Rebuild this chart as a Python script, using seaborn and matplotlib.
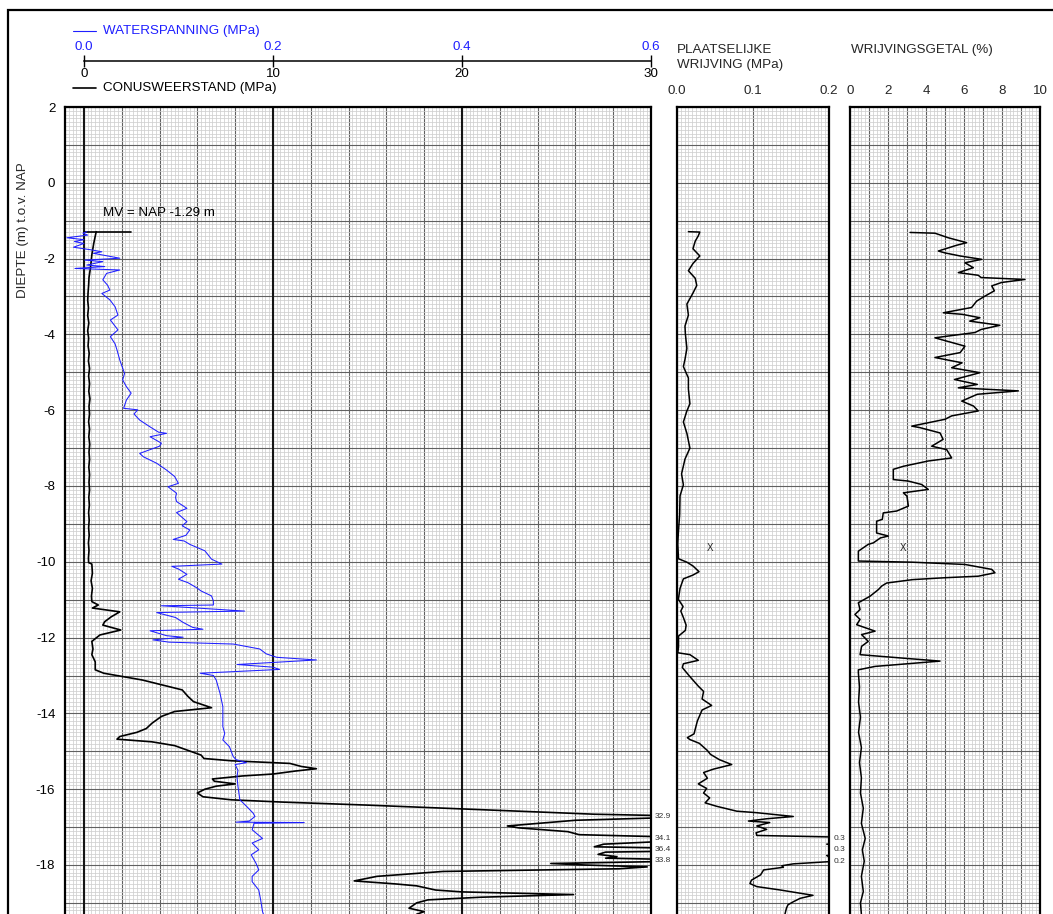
import numpy as np
import pandas as pd
import matplotlib
matplotlib.use("Agg")
import matplotlib.pyplot as plt
from matplotlib.lines import Line2D
from matplotlib.patches import Rectangle
from matplotlib.ticker import MultipleLocator, FuncFormatter
import seaborn as sns

# ---------------- data ----------------
MV_DEPTH = -1.29
MV_TEXT = "MV = NAP -1.29 m"

qc_depth = [-1.29, -1.45, -1.6, -1.75, -1.9, -2.1, -2.3, -2.5, -2.7, -2.9, -3.1, -3.3, -3.5, -3.7, -3.9,
            -4.1, -4.3, -4.5, -4.7, -4.9, -5.1, -5.3, -5.5, -5.7, -5.9, -6.1, -6.3, -6.5, -6.7, -6.9,
            -7.1, -7.3, -7.5, -7.7, -7.9, -8.1, -8.3, -8.5, -8.7, -8.9, -9.1, -9.3, -9.5, -9.7, -9.9,
            -10.02, -10.06, -10.3, -10.5, -10.7, -10.9, -11.05, -11.14, -11.22, -11.32, -11.45, -11.58,
            -11.67, -11.8, -11.93, -12.1, -12.3, -12.45, -12.64, -12.85, -12.94, -13.12, -13.38, -13.55,
            -13.69, -13.85, -13.95, -14.08, -14.26, -14.4, -14.5, -14.61, -14.68, -14.75, -14.85, -15.01,
            -15.1, -15.19, -15.25, -15.32, -15.4, -15.46, -15.52, -15.6, -15.65, -15.73, -15.79, -15.86,
            -15.92, -16.0, -16.1, -16.2, -16.28, -16.34, -16.42, -16.5, -16.58, -16.66, -16.72, -16.82,
            -16.97, -17.02, -17.12, -17.2, -17.3, -17.45, -17.52, -17.6, -17.66, -17.72, -17.78, -17.82,
            -17.88, -17.96, -18.0, -18.05, -18.1, -18.17, -18.3, -18.42, -18.5, -18.55, -18.66, -18.71,
            -18.78, -18.85, -18.92, -19.0, -19.14, -19.23, -19.3]
qc_value = [0.65, 0.58, 0.52, 0.47, 0.42, 0.38, 0.33, 0.27, 0.25, 0.22, 0.2, 0.24, 0.2, 0.26, 0.2,
            0.25, 0.22, 0.28, 0.24, 0.3, 0.25, 0.3, 0.26, 0.32, 0.27, 0.3, 0.25, 0.3, 0.26, 0.31,
            0.27, 0.3, 0.26, 0.3, 0.27, 0.3, 0.26, 0.29, 0.25, 0.28, 0.25, 0.28, 0.24, 0.27, 0.24,
            0.25, 0.42, 0.45, 0.38, 0.45, 0.4, 0.42, 0.76, 0.45, 1.9, 1.45, 1.1,
            1.0, 1.95, 0.85, 0.42, 0.48, 0.42, 0.6, 0.6, 1.05, 3.1, 5.2, 5.5,
            5.8, 6.75, 4.8, 4.1, 3.6, 3.3, 2.8, 1.9, 1.75, 3.6, 4.8, 5.7,
            6.2, 6.35, 7.8, 10.9, 11.5, 12.3, 11.2, 10.0, 8.4, 6.8, 6.9, 8.0,
            7.0, 6.4, 6.0, 6.3, 7.8, 10.5, 15.0, 19.0, 23.0, 27.0, 32.9, 26.0,
            22.4, 23.0, 25.6, 26.2, 34.1, 27.5, 27.0, 36.4, 27.6, 27.2, 28.2, 27.6,
            33.8, 24.7, 26.5, 29.8, 28.3, 19.0, 15.5, 14.3, 16.5, 17.6, 18.6, 20.0,
            25.9, 21.0, 18.2, 17.6, 17.2, 18.0, 17.6]

u_depth = [-1.29, -1.33, -1.38, -1.45, -1.5, -1.55, -1.6, -1.7, -1.77, -1.82, -1.86, -1.99, -2.04, -2.08,
           -2.17, -2.21, -2.26, -2.3, -2.39, -2.56, -2.7, -2.83, -2.92, -3.09, -3.27, -3.49, -3.62, -3.88,
           -4.06, -4.25, -4.41, -4.68, -5.03, -5.2, -5.38, -5.55, -5.73, -5.95, -5.99, -6.1, -6.26, -6.44,
           -6.58, -6.61, -6.7, -6.87, -6.95, -7.14, -7.23, -7.4, -7.58, -7.75, -7.93, -8.02, -8.19, -8.3,
           -8.41, -8.59, -8.7, -8.81, -8.94, -9.05, -9.16, -9.3, -9.41, -9.45, -9.54, -9.71, -9.93, -10.06,
           -10.12, -10.19, -10.33, -10.46, -10.55, -10.68, -10.77, -10.9, -11.03, -11.14, -11.16, -11.3,
           -11.34, -11.47, -11.6, -11.73, -11.78, -11.82, -11.95, -11.99, -12.06, -12.12, -12.17, -12.3,
           -12.43, -12.52, -12.59, -12.65, -12.71, -12.78, -12.84, -12.89, -12.94, -13.0, -13.12, -13.47,
           -13.82, -14.0, -14.35, -14.53, -14.7, -14.88, -15.14, -15.22, -15.3, -15.35, -15.5, -15.67,
           -15.93, -16.28, -16.45, -16.63, -16.72, -16.84, -16.87, -16.88, -16.9, -17.07, -17.3, -17.42,
           -17.6, -17.73, -17.95, -18.13, -18.3, -18.44, -18.66, -18.92, -19.23, -19.3]
u_value = [0.003, -0.001, 0.004, -0.018, 0.0, -0.01, 0.0, -0.011, 0.008, 0.019, 0.01, 0.038, 0.001, 0.02,
           0.003, 0.022, -0.0095, 0.038, 0.024, 0.02, 0.025, 0.0275, 0.019, 0.0275, 0.033, 0.036, 0.028, 0.036,
           0.028, 0.033, 0.035, 0.038, 0.043, 0.041, 0.045, 0.05, 0.045, 0.042, 0.057, 0.053, 0.059, 0.07,
           0.079, 0.0875, 0.07, 0.082, 0.08, 0.059, 0.063, 0.077, 0.0875, 0.096, 0.1, 0.089, 0.098, 0.097,
           0.098, 0.109, 0.098, 0.103, 0.109, 0.104, 0.112, 0.108, 0.0945, 0.106, 0.112, 0.128, 0.135, 0.146,
           0.093, 0.1, 0.109, 0.1, 0.11, 0.119, 0.124, 0.135, 0.137, 0.137, 0.082, 0.17,
           0.077, 0.097, 0.105, 0.115, 0.126, 0.07, 0.0875, 0.105, 0.073, 0.09, 0.158, 0.186,
           0.193, 0.204, 0.246, 0.204, 0.162, 0.2, 0.207, 0.165, 0.123, 0.137, 0.14, 0.144,
           0.147, 0.147, 0.147, 0.149, 0.147, 0.154, 0.158, 0.161, 0.172, 0.16, 0.163, 0.162,
           0.163, 0.165, 0.172, 0.179, 0.181, 0.175, 0.161, 0.233, 0.18, 0.178, 0.189, 0.178,
           0.185, 0.177, 0.182, 0.185, 0.178, 0.178, 0.185, 0.187, 0.189, 0.19]

fs_depth = [-1.29, -1.30, -1.40, -1.54, -1.74, -1.93, -2.13, -2.32, -2.52, -2.71, -2.91, -3.20, -3.49, -3.78,
            -3.98, -4.37, -4.66, -4.85, -5.15, -5.44, -5.83, -6.02, -6.31, -6.61, -7.0, -7.29, -7.68, -7.97,
            -8.26, -8.75, -9.23, -9.53, -9.92, -10.01, -10.11, -10.26, -10.35, -10.45, -10.7, -10.99, -11.18,
            -11.3, -11.47, -11.67, -11.81, -11.96, -12.25, -12.4, -12.45, -12.6, -12.69, -12.79, -13.03,
            -13.28, -13.42, -13.62, -13.79, -13.91, -14.2, -14.54, -14.64, -14.69, -14.79, -14.98, -15.08,
            -15.22, -15.35, -15.47, -15.56, -15.71, -15.86, -15.98, -16.1, -16.23, -16.36, -16.45, -16.58,
            -16.62, -16.72, -16.78, -16.84, -16.88, -16.97, -17.06, -17.15, -17.22, -17.3, -17.45, -17.6,
            -17.75, -17.9, -17.97, -18.02, -18.06, -18.13, -18.26, -18.4, -18.49, -18.57, -18.66, -18.8,
            -18.88, -18.97, -19.05, -19.14, -19.3]
fs_value = [0.015, 0.030, 0.028, 0.024, 0.021, 0.030, 0.021, 0.015, 0.024, 0.026, 0.021, 0.013, 0.015, 0.0105,
            0.011, 0.013, 0.0105, 0.0084, 0.015, 0.015, 0.017, 0.013, 0.0084, 0.013, 0.017, 0.0105, 0.006, 0.0084,
            0.004, 0.0035, 0.0018, 0.001, 0.002, 0.013, 0.021, 0.029, 0.021, 0.0084, 0.004, 0.0018, 0.008,
            0.005, 0.0084, 0.012, 0.011, 0.002, 0.002, 0.001, 0.017, 0.028, 0.0084, 0.007, 0.017,
            0.028, 0.035, 0.033, 0.0456, 0.033, 0.0268, 0.0224, 0.0136, 0.017, 0.0294, 0.040, 0.044,
            0.0557, 0.072, 0.048, 0.035, 0.040, 0.028, 0.039, 0.035, 0.043, 0.037, 0.052, 0.0786,
            0.105, 0.153, 0.118, 0.094, 0.122, 0.105, 0.118, 0.104, 0.105, 0.30, 0.197, 0.30,
            0.197, 0.21, 0.153, 0.138, 0.14, 0.114, 0.110, 0.098, 0.096, 0.105, 0.136, 0.179,
            0.162, 0.153, 0.146, 0.144, 0.142]

rf_depth = [-1.31, -1.33, -1.36, -1.45, -1.58, -1.65, -1.8, -1.85, -1.93, -2.02, -2.11, -2.24, -2.37, -2.44,
            -2.5, -2.55, -2.63, -2.72, -2.85, -2.99, -3.12, -3.29, -3.43, -3.47, -3.56, -3.65, -3.76, -3.87,
            -3.95, -4.09, -4.31, -4.48, -4.61, -4.75, -4.88, -5.01, -5.19, -5.32, -5.41, -5.49, -5.58, -5.76,
            -5.89, -6.02, -6.15, -6.24, -6.42, -6.46, -6.6, -6.77, -6.95, -7.04, -7.26, -7.34, -7.48, -7.56,
            -7.83, -7.87, -7.96, -8.09, -8.18, -8.27, -8.53, -8.66, -8.71, -8.88, -8.93, -9.24, -9.32, -9.37,
            -9.5, -9.54, -9.72, -9.98, -10.01, -10.07, -10.2, -10.29, -10.38, -10.42, -10.47, -10.56, -10.64,
            -10.73, -10.91, -11.08, -11.26, -11.39, -11.52, -11.66, -11.83, -11.92, -12.1, -12.23, -12.45,
            -12.49, -12.62, -12.76, -12.85, -12.93, -13.3, -13.7, -14.1, -14.5, -14.9, -15.3, -15.7, -16.1,
            -16.5, -16.9, -17.3, -17.6, -17.9, -18.3, -18.7, -19.0, -19.3]
rf_value = [3.16, 4.47, 4.65, 5.17, 6.14, 5.6, 4.65, 5.0, 5.79, 6.93, 6.05, 6.49, 5.7, 6.75,
            6.9, 9.21, 7.98, 7.46, 7.6, 7.1, 6.67, 6.4, 4.91, 5.9, 6.84, 6.3, 7.89, 6.9,
            6.58, 4.47, 6.05, 5.8, 4.47, 5.9, 5.35, 6.84, 5.5, 6.7, 5.7, 8.86, 6.7, 5.88,
            6.5, 6.75, 5.35, 5.0, 3.25, 3.68, 4.74, 4.9, 4.3, 5.09, 5.35, 4.12, 2.81, 2.28,
            2.28, 3.07, 3.77, 4.12, 2.81, 3.0, 3.07, 2.46, 1.75, 1.7, 1.4, 1.4, 2.02, 1.6,
            1.23, 0.96, 0.44, 0.44, 3.25, 6.05, 7.46, 7.63, 6.75, 5.0, 3.3, 1.93, 1.67,
            1.5, 1.05, 0.44, 0.53, 0.26, 0.53, 0.35, 1.32, 0.61, 0.96, 0.61, 0.53,
            1.5, 4.74, 1.32, 0.44, 0.44, 0.5, 0.45, 0.55, 0.45, 0.6, 0.5, 0.6, 0.55,
            0.7, 0.6, 0.8, 0.65, 0.75, 0.6, 0.7, 0.55, 0.6]

X_MARK_DEPTH = -9.64
X_MARK_FS = 0.0434
X_MARK_RF = 2.79

QC_MAX = 30
U_MAX = 0.6
FS_MAX = 0.2
RF_MAX = 10

# ---------------- style ----------------
sns.set_theme(style="white")
plt.rcParams["font.family"] = ["Liberation Sans", "DejaVu Sans"]
plt.rcParams["axes.unicode_minus"] = False

W, H = 1053, 914
fig = plt.figure(figsize=(W / 100, H / 100), dpi=100)
fig.patch.set_facecolor("white")


def fx(px):
    return px / W


def fy(py):
    return 1 - py / H


BLUE = "#1f1fff"
FS = 9.6
TOP, BOT = 107, H
YLIM = (2 - (BOT - TOP) / 37.9, 2)


def make_axes(x0, x1):
    return fig.add_axes([fx(x0), fy(BOT), fx(x1) - fx(x0), fy(TOP) - fy(BOT)])


ax = make_axes(65, 651)
ax2 = make_axes(677, 829)
ax3 = make_axes(850, 1040)


def style_panel(a, xmaj, xmin):
    a.set_facecolor("white")
    a.xaxis.set_major_locator(MultipleLocator(xmaj))
    a.xaxis.set_minor_locator(MultipleLocator(xmin))
    a.yaxis.set_major_locator(MultipleLocator(1))
    a.yaxis.set_minor_locator(MultipleLocator(0.1))
    a.grid(True, which="minor", color="#cfcfcf", lw=0.55)
    a.grid(True, which="major", color="#606060", lw=0.8)
    a.set_axisbelow(True)
    a.tick_params(which="both", length=0)
    for s in ["top", "left", "right"]:
        a.spines[s].set_visible(True)
        a.spines[s].set_color("black")
        a.spines[s].set_linewidth(1.6)
        a.spines[s].set_zorder(5)
    a.spines["bottom"].set_visible(False)
    a.set_ylim(*YLIM)
    a.set_xlabel("")
    a.set_ylabel("")


# main panel
sns.lineplot(x=qc_value, y=qc_depth, sort=False, estimator=None, color="black", lw=1.2, ax=ax, zorder=3)
style_panel(ax, 2, 0.2)
ax.set_xlim(-1, QC_MAX)
ax.tick_params(axis="x", labelbottom=False, labeltop=False)
ax.yaxis.set_major_formatter(FuncFormatter(lambda v, p: f"{int(round(v))}" if int(round(v)) % 2 == 0 else ""))
ax.tick_params(axis="y", labelsize=FS, pad=7, labelcolor="black")
for v in [0, 10, 20]:
    ax.axvline(v, color="#151515", lw=1.5, zorder=1.5)

axu = ax.twiny()
sns.lineplot(x=u_value, y=u_depth, sort=False, estimator=None, color=BLUE, lw=0.75, ax=axu, zorder=3)
axu.set_xlim(-U_MAX / QC_MAX, U_MAX)
axu.set_ylim(*YLIM)
axu.set_xticks([])
axu.set_xlabel("")
for s in axu.spines.values():
    s.set_visible(False)

# MV marker
ax.plot([0, 2.5], [MV_DEPTH, MV_DEPTH], color="black", lw=1.2, zorder=3)
ax.text(1.0, MV_DEPTH + 0.5, MV_TEXT, fontsize=FS, va="center", ha="left", color="black")


def run_peaks(depths, vals, limit):
    out = []
    cur = None
    for d, v in zip(depths, vals):
        if v > limit:
            if cur is None or v > cur[1]:
                cur = (d, v)
        else:
            if cur is not None:
                out.append(cur)
                cur = None
    if cur is not None:
        out.append(cur)
    return out


for d, v in run_peaks(qc_depth, qc_value, QC_MAX):
    ax.annotate(f"{v:.1f}", xy=(1, d), xycoords=("axes fraction", "data"), xytext=(3, 0),
                textcoords="offset points", fontsize=6, color="#333333", va="center", ha="left",
                annotation_clip=False)

# friction panel
sns.lineplot(x=fs_value, y=fs_depth, sort=False, estimator=None, color="black", lw=1.1, ax=ax2, zorder=3)
style_panel(ax2, 0.1, 0.005)
ax2.set_xlim(0, FS_MAX)
ax2.xaxis.set_major_formatter(FuncFormatter(lambda v, p: f"{v:.1f}"))
ax2.tick_params(axis="x", labeltop=True, labelbottom=False, labelsize=FS, pad=7)
ax2.tick_params(axis="y", labelleft=False)
ax2.text(X_MARK_FS, X_MARK_DEPTH, "X", fontsize=7, ha="center", va="center")
for d, v in run_peaks(fs_depth, fs_value, FS_MAX):
    ax2.annotate(f"{v:.1f}", xy=(1, d), xycoords=("axes fraction", "data"), xytext=(3, 0),
                 textcoords="offset points", fontsize=6, color="#333333", va="center", ha="left",
                 annotation_clip=False)

# friction ratio panel
sns.lineplot(x=rf_value, y=rf_depth, sort=False, estimator=None, color="black", lw=1.1, ax=ax3, zorder=3)
style_panel(ax3, 1, 0.2)
ax3.set_xlim(0, RF_MAX)
ax3.xaxis.set_major_formatter(FuncFormatter(lambda v, p: f"{int(round(v))}" if int(round(v)) % 2 == 0 else ""))
ax3.tick_params(axis="x", labeltop=True, labelbottom=False, labelsize=FS, pad=7)
ax3.tick_params(axis="y", labelleft=False)
ax3.text(X_MARK_RF, X_MARK_DEPTH, "X", fontsize=7, ha="center", va="center")

# top scale bar for main panel
axs = fig.add_axes([fx(65), fy(60.5), fx(651) - fx(65), 0.0005])
axs.set_xlim(-1, QC_MAX)
axs.set_facecolor("none")
for s in ["top", "left", "right"]:
    axs.spines[s].set_visible(False)
axs.spines["bottom"].set_visible(True)
axs.spines["bottom"].set_color("black")
axs.spines["bottom"].set_linewidth(1.1)
axs.spines["bottom"].set_bounds(0, QC_MAX)
axs.set_yticks([])
axs.set_xticks([0, 10, 20, 30])
axs.set_xticklabels(["0", "10", "20", "30"])
axs.tick_params(axis="x", direction="inout", length=8, width=1.0, labelsize=FS, pad=1.5, colors="black")
axs2 = axs.twiny()
axs2.set_xlim(-U_MAX / QC_MAX, U_MAX)
axs2.set_xticks([0, 0.2, 0.4, 0.6])
axs2.set_xticklabels(["0.0", "0.2", "0.4", "0.6"])
axs2.tick_params(axis="x", length=0, labelsize=FS, pad=5, labelcolor=BLUE)
for s in axs2.spines.values():
    s.set_visible(False)

# legend entries
fig.add_artist(Line2D([fx(73), fx(96)], [fy(31), fy(31)], color=BLUE, lw=0.8, transform=fig.transFigure))
fig.text(fx(103), fy(31), "WATERSPANNING (MPa)", color=BLUE, fontsize=FS, va="center", ha="left")
fig.add_artist(Line2D([fx(73), fx(96)], [fy(88), fy(88)], color="black", lw=1.2, transform=fig.transFigure))
fig.text(fx(103), fy(88), "CONUSWEERSTAND (MPa)", color="black", fontsize=FS, va="center", ha="left")

fig.text(fx(677), fy(57.5), "PLAATSELIJKE\nWRIJVING (MPa)", fontsize=FS, va="center", ha="left",
         linespacing=1.27)
fig.text(fx(851), fy(50), "WRIJVINGSGETAL (%)", fontsize=FS, va="center", ha="left")

fig.text(fx(23), fy(230), "DIEPTE (m) t.o.v. NAP", fontsize=FS, rotation=90, va="center", ha="center")

# outer frame
fig.add_artist(Rectangle((fx(8), -0.2), 2, fy(10) + 0.2, transform=fig.transFigure, fill=False,
                         ec="black", lw=1.6))

fig.savefig("out.png", dpi=100)
